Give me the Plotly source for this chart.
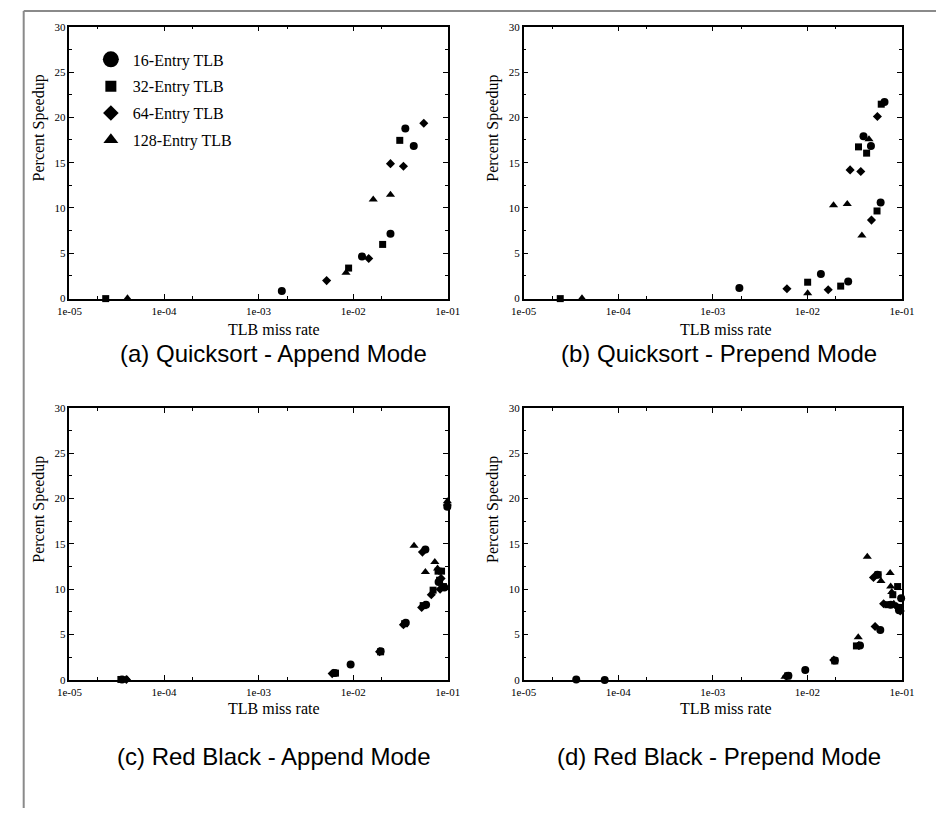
import plotly.graph_objects as go

W, H = 949, 814

series_names = ["16-Entry TLB", "32-Entry TLB", "64-Entry TLB", "128-Entry TLB"]
symbols = ["circle", "square", "diamond", "triangle-up"]
data_sizes = [8, 7, 7, 8]
legend_sizes = [16, 11, 12, 13]

# (a) Quicksort - Append Mode
a_x = [
    [1.76e-3, 1.24e-2, 2.48e-2, 3.56e-2, 4.37e-2],
    [2.42e-5, 8.95e-3, 2.05e-2, 3.11e-2],
    [5.24e-3, 1.46e-2, 2.48e-2, 3.40e-2, 5.58e-2],
    [4.11e-5, 8.4e-3, 1.63e-2, 2.48e-2],
]
a_y = [
    [0.83, 4.64, 7.17, 18.77, 16.85],
    [0.0, 3.37, 5.98, 17.46],
    [1.99, 4.42, 14.89, 14.6, 19.35],
    [0.05, 2.85, 10.94, 11.45],
]

# (b) Quicksort - Prepend Mode
b_x = [
    [1.91e-3, 1.39e-2, 2.70e-2, 3.92e-2, 4.70e-2, 5.95e-2, 6.54e-2],
    [2.44e-5, 1.007e-2, 2.25e-2, 3.47e-2, 4.23e-2, 5.45e-2, 6.04e-2],
    [6.08e-3, 1.66e-2, 2.83e-2, 3.67e-2, 4.76e-2, 5.50e-2],
    [4.14e-5, 1.007e-2, 1.89e-2, 2.64e-2, 3.77e-2, 4.48e-2],
]
b_y = [
    [1.16, 2.72, 1.88, 17.9, 16.85, 10.6, 21.7],
    [0.0, 1.81, 1.38, 16.74, 16.05, 9.67, 21.45],
    [1.09, 0.98, 14.2, 14.02, 8.66, 20.1],
    [0.05, 0.6, 10.29, 10.43, 6.96, 17.57],
]

# (c) Red Black - Append Mode
c_x = [
    [3.6e-5, 6.4e-3, 9.4e-3, 1.95e-2, 3.6e-2, 5.9e-2, 5.8e-2, 8.0e-2, 9.2e-2, 9.9e-2],
    [3.5e-5, 6.5e-3, 1.95e-2, 3.5e-2, 5.5e-2, 7.0e-2, 7.9e-2, 8.6e-2, 9.0e-2, 8.2e-2],
    [4.0e-5, 6.0e-3, 1.9e-2, 3.4e-2, 5.3e-2, 5.4e-2, 6.7e-2, 8.3e-2, 8.5e-2, 9.9e-2],
    [4.1e-5, 6.2e-3, 3.5e-2, 4.4e-2, 5.8e-2, 7.3e-2, 7.8e-2, 9.9e-2, 5.7e-2],
]
c_y = [
    [0.05, 0.75, 1.7, 3.15, 6.3, 8.3, 14.4, 10.8, 10.2, 19.1],
    [0.05, 0.75, 3.1, 6.2, 8.2, 9.9, 12.0, 12.0, 10.3, 11.0],
    [0.05, 0.7, 3.1, 6.1, 8.0, 14.1, 9.4, 10.0, 11.2, 19.3],
    [0.05, 0.8, 6.3, 14.8, 11.9, 13.0, 12.3, 19.7, 8.3],
]

# (d) Red Black - Prepend Mode
d_x = [
    [3.6e-5, 7.2e-5, 6.3e-3, 9.5e-3, 1.95e-2, 3.6e-2, 5.5e-2, 5.9e-2, 7.6e-2, 9.3e-2, 9.8e-2],
    [6.2e-3, 1.95e-2, 3.3e-2, 5.6e-2, 7.1e-2, 8.0e-2, 9.0e-2, 9.4e-2],
    [6.0e-3, 1.9e-2, 3.5e-2, 5.0e-2, 5.2e-2, 6.4e-2, 8.8e-2, 9.6e-2],
    [5.8e-3, 3.45e-2, 4.3e-2, 6.0e-2, 7.5e-2, 7.6e-2, 7.8e-2, 8.2e-2],
]
d_y = [
    [0.05, 0.0, 0.45, 1.1, 2.15, 3.8, 11.6, 5.5, 8.3, 7.7, 9.0],
    [0.45, 2.1, 3.75, 11.6, 8.3, 9.4, 10.3, 8.0],
    [0.4, 2.2, 3.8, 11.3, 5.9, 8.4, 8.1, 7.6],
    [0.35, 4.7, 13.6, 10.9, 11.8, 10.3, 9.7, 8.4],
]

captions = ["(a) Quicksort - Append Mode", "(b) Quicksort - Prepend Mode",
            "(c) Red Black - Append Mode", "(d) Red Black - Prepend Mode"]

x_tickvals = [1e-5, 1e-4, 1e-3, 1e-2, 1e-1]
x_ticktext = ["1e-05", "1e-04", "1e-03", "1e-02", "1e-01"]
x_minor_vals = [2e-5, 2e-4, 2e-3, 2e-2]
y_tickvals = [0, 5, 10, 15, 20, 25, 30]

panels = [(a_x, a_y), (b_x, b_y), (c_x, c_y), (d_x, d_y)]

# pixel boxes of plot areas: (left, right, top, bottom)
boxes = [(58, 447, 21, 297), (525, 914, 21, 297),
         (58, 447, 408, 684), (525, 914, 408, 684)]

SERIF = "Liberation Serif, Times New Roman, serif"
SANS = "Liberation Sans, Arial, sans-serif"

fig = go.Figure()

for p, (px, py) in enumerate(panels):
    xa = "x" if p == 0 else f"x{p+1}"
    ya = "y" if p == 0 else f"y{p+1}"
    for s in range(4):
        fig.add_trace(go.Scatter(
            x=px[s], y=py[s], mode="markers", xaxis=xa, yaxis=ya,
            marker=dict(symbol=symbols[s], size=data_sizes[s], color="black",
                        line=dict(width=0)),
            showlegend=False, cliponaxis=False, name=series_names[s]))

# legend entries
for s in range(4):
    fig.add_trace(go.Scatter(
        x=[None], y=[None], mode="markers", xaxis="x", yaxis="y",
        marker=dict(symbol=symbols[s], size=legend_sizes[s], color="black"),
        name=series_names[s], legendgroup=f"g{s}", showlegend=True))

layout = dict(width=W, height=H, margin=dict(l=0, r=0, t=0, b=0),
              paper_bgcolor="white", plot_bgcolor="white",
              showlegend=True,
              legend=dict(x=78 / W, y=1 - 37 / H, xanchor="left", yanchor="top",
                          font=dict(family=SERIF, size=16, color="black"),
                          bgcolor="rgba(0,0,0,0)", tracegroupgap=3,
                          itemsizing="trace", itemwidth=34))

annotations = []
for p, (l, r, t, b) in enumerate(boxes):
    xk = "xaxis" if p == 0 else f"xaxis{p+1}"
    yk = "yaxis" if p == 0 else f"yaxis{p+1}"
    ya = "y" if p == 0 else f"y{p+1}"
    xa = "x" if p == 0 else f"x{p+1}"
    layout[xk] = dict(
        type="log", range=[-5, -1], domain=[l / W, r / W], anchor=ya,
        tickmode="array", tickvals=x_tickvals, ticktext=x_ticktext,
        ticks="inside", ticklen=5, tickwidth=1, tickcolor="black",
        showline=True, linecolor="black", linewidth=1.5, mirror="ticks",
        showgrid=False, zeroline=False, ticklabelstandoff=1,
        tickfont=dict(family=SERIF, size=11, color="black"),
        minor=dict(tickmode="array", tickvals=x_minor_vals, ticks="inside",
                   ticklen=3, tickcolor="black", showgrid=False),
    )
    layout[yk] = dict(
        range=[0, 30], domain=[1 - b / H, 1 - t / H], anchor=xa,
        tickmode="array", tickvals=y_tickvals,
        ticks="inside", ticklen=5, tickwidth=1, tickcolor="black",
        showline=True, linecolor="black", linewidth=1.5, mirror="ticks",
        showgrid=False, zeroline=False,
        tickfont=dict(family=SERIF, size=11, color="black"),
        minor=dict(dtick=2.5, ticks="inside", ticklen=3, tickcolor="black",
                   showgrid=False),
    )
    top_row = p < 2
    title_y = 328 if top_row else 713
    cap_y = 353 if top_row else 762
    ylab_y = 124 if top_row else 511
    cx = 268 if p % 2 == 0 else 733
    cap_x = 268 if p % 2 == 0 else 726
    annotations.append(dict(text="TLB miss rate", x=cx / W, y=1 - title_y / H,
                            xref="paper", yref="paper", showarrow=False,
                            xanchor="center", yanchor="middle",
                            font=dict(family=SERIF, size=16, color="black")))
    annotations.append(dict(text="Percent Speedup", x=(l - 31) / W, y=1 - ylab_y / H,
                            xref="paper", yref="paper", showarrow=False, textangle=-90,
                            xanchor="center", yanchor="middle",
                            font=dict(family=SERIF, size=16, color="black")))
    annotations.append(dict(text=captions[p], x=cap_x / W, y=1 - cap_y / H,
                            xref="paper", yref="paper", showarrow=False,
                            xanchor="center", yanchor="middle",
                            font=dict(family=SANS, size=24, color="black")))

layout["annotations"] = annotations
layout["shapes"] = [
    dict(type="line", xref="paper", yref="paper", x0=11 / W, x1=1, y0=1 - 5 / H, y1=1 - 5 / H,
         line=dict(color="#8a8a8a", width=2)),
    dict(type="line", xref="paper", yref="paper", x0=11 / W, x1=11 / W, y0=1 - 5 / H, y1=0,
         line=dict(color="#8a8a8a", width=2)),
]
fig.update_layout(**layout)
fig.write_html("out.html")
